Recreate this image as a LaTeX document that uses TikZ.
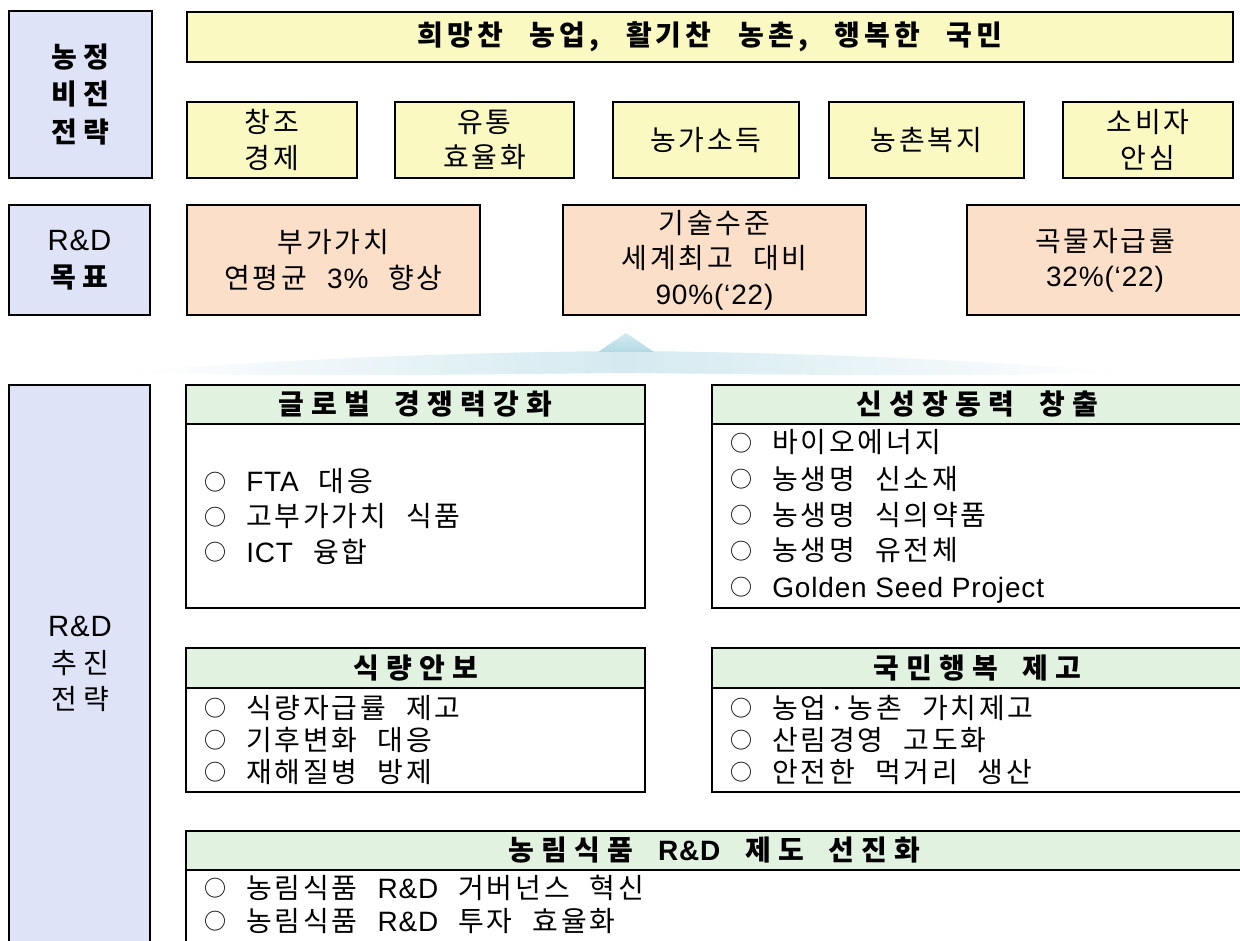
\documentclass[tikz,border=0pt]{standalone}
\usepackage{fontspec}
\setmainfont{Noto Sans CJK KR}[WordSpace=2.2,LetterSpace=10]
\newfontfamily\tfont{Noto Sans CJK KR}[LetterSpace=15,WordSpace=2.5]
\newfontfamily\hfont{Noto Sans CJK KR}[LetterSpace=26,WordSpace=1.8]
\newfontfamily\lfont{Noto Sans CJK KR}[LetterSpace=22]
\newfontfamily\lat{Liberation Sans}[LetterSpace=3]
\newcommand\fs{\fontsize{21}{26.5}\selectfont}
\newcommand\tfs{\fontsize{21}{26.5}\selectfont\tfont\bfseries}
\newcommand\hfs{\fontsize{21}{26.5}\selectfont\hfont\bfseries}
\newcommand\lfs{\fontsize{21}{28}\selectfont\lfont\bfseries}
\newcommand\bul{\raisebox{1.3pt}{\fontsize{16.5}{20}\selectfont ○}\hspace{15pt}}
\definecolor{lav}{RGB}{222,227,247}
\definecolor{yel}{RGB}{250,249,194}
\definecolor{pea}{RGB}{252,223,200}
\definecolor{grn}{RGB}{226,242,224}
\definecolor{sepc}{RGB}{160,208,222}
\newcommand\rbox[7]{\node[#1, minimum width={(#5-#3)*0.75pt}, minimum height={(#6-#4)*0.75pt}] (#2) at ({(#3+#5)/2},{(#4+#6)/2}) {#7};}
\begin{document}
\begin{tikzpicture}[x=0.75pt,y=-0.75pt,
  box/.style={draw=black, line width=1.8pt, inner sep=0pt, align=center, font=\fs},
  hbox/.style={box, fill=grn, font=\hfs},
  item/.style={anchor=base west, inner sep=0pt, font=\fs}]
\clip (0,0) rectangle (1240,941);
\useasboundingbox (0,0) rectangle (1240,941);
\fill[white] (0,0) rectangle (1240,941);
% row 1
\rbox{box,fill=lav,font=\lfs}{lv}{9}{11}{152}{178}{농정\\비전\\전략}
\rbox{box,fill=yel,font=\tfs}{title}{187}{12}{1233}{62}{희망찬 농업, 활기찬 농촌, 행복한 국민}
\rbox{box,fill=yel}{y1}{187}{102}{357}{178}{창조\\경제}
\rbox{box,fill=yel}{y2}{395}{102}{574}{178}{유통\\효율화}
\rbox{box,fill=yel}{y3}{613}{102}{799}{178}{농가소득}
\rbox{box,fill=yel}{y4}{829}{102}{1024}{178}{농촌복지}
\rbox{box,fill=yel}{y5}{1063}{102}{1233}{178}{소비자\\안심}
% row 2
\rbox{box,fill=lav,font=\lfs}{lr}{9}{205}{150}{315}{{\lat\mdseries\fontsize{22}{28}\selectfont R\&D}\\목표}
\rbox{box,fill=pea}{o1}{187}{205}{480}{315}{부가가치\\연평균 {\lat 3\%} 향상}
\rbox{box,fill=pea}{o2}{563}{205}{866}{315}{기술수준\\세계최고 대비\\{\lat 90\%(‘22)}}
\rbox{box,fill=pea}{o3}{967}{205}{1243}{315}{곡물자급률\\{\lat 32\%(‘22)}}
% separator glow
\shade[left color=white, right color=white, middle color=sepc!45]
  (122,372) .. controls (300,358) and (480,352) .. (626,351)
  .. controls (770,352) and (950,358) .. (1125,372)
  .. controls (950,378) and (770,374) .. (626,373)
  .. controls (480,374) and (300,378) .. (122,372) -- cycle;
\shade[top color=sepc!45, bottom color=sepc!80] (626,333) -- (654,352) -- (598,352) -- cycle;
% row 3
\rbox{box,fill=lav}{ls}{9}{385}{150}{960}{}
\node[align=center, font=\fontsize{21}{27.5}\selectfont\lfont] (lst) at (80,664) {{\lat\fontsize{22}{27.5}\selectfont R\&D}\\추진\\전략};
\rbox{hbox}{g1h}{186}{385}{645}{424}{글로벌 경쟁력강화}
\rbox{box}{g1b}{186}{424}{645}{608}{}
\rbox{hbox}{g2h}{712}{385}{1243}{424}{신성장동력 창출}
\rbox{box}{g2b}{712}{424}{1243}{608}{}
\rbox{hbox}{g3h}{186}{648}{645}{688}{식량안보}
\rbox{box}{g3b}{186}{688}{645}{792}{}
\rbox{hbox}{g4h}{712}{648}{1243}{688}{국민행복 제고}
\rbox{box}{g4b}{712}{688}{1243}{792}{}
\rbox{hbox}{g5h}{186}{831}{1243}{870}{농림식품 {\lat\bfseries R\&D} 제도 선진화}
\rbox{box}{g5b}{186}{870}{1243}{960}{}
% items
\node[item] (g1i1) at (204,492) {\bul{\lat FTA} 대응};
\node[item] (g1i2) at (204,527) {\bul 고부가가치 식품};
\node[item] (g1i3) at (204,562) {\bul{\lat ICT} 융합};
\node[item] (g2i1) at (730,453) {\bul 바이오에너지};
\node[item] (g2i2) at (730,489) {\bul 농생명 신소재};
\node[item] (g2i3) at (730,525) {\bul 농생명 식의약품};
\node[item] (g2i4) at (730,561) {\bul 농생명 유전체};
\node[item] (g2i5) at (730,597) {\bul{\lat Golden Seed Project}};
\node[item] (g3i1) at (204,718) {\bul 식량자급률 제고};
\node[item] (g3i2) at (204,750) {\bul 기후변화 대응};
\node[item] (g3i3) at (204,782) {\bul 재해질병 방제};
\node[item] (g4i1) at (730,718) {\bul 농업·농촌 가치제고};
\node[item] (g4i2) at (730,750) {\bul 산림경영 고도화};
\node[item] (g4i3) at (730,782) {\bul 안전한 먹거리 생산};
\node[item] (g5i1) at (204,898) {\bul 농림식품 {\lat R\&D} 거버넌스 혁신};
\node[item] (g5i2) at (204,931) {\bul 농림식품 {\lat R\&D} 투자 효율화};
\end{tikzpicture}
\end{document}
